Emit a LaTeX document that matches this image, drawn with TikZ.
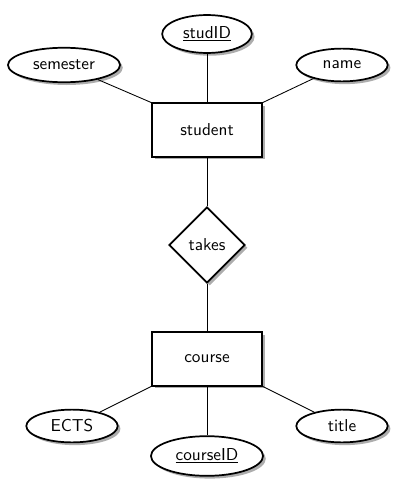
\documentclass[tikz,border=0pt]{standalone}
\usepackage{tikz}
\usetikzlibrary{shadows, shapes.geometric, positioning}
\tikzset{
    er shadow/.style = {drop shadow={shadow xshift=1.6pt, shadow yshift=-1.6pt, fill=black!40, opacity=.8}},
    entity/.style = {draw, line width=1pt, fill=white, er shadow, rectangle, minimum width=64pt, minimum height=31pt, font=\sffamily},
    relation/.style = {draw, line width=1pt, fill=white, er shadow, diamond, aspect=1, inner sep=0pt, minimum size=44pt, font=\sffamily},
    attr/.style = {draw, line width=1pt, fill=white, er shadow, ellipse, inner sep=0pt, minimum width=53pt, minimum height=19pt, font=\sffamily},
}
\tikzset{
    er edge/.style = {draw, line width=0.5pt, -},
}
\begin{document}
\begin{tikzpicture}[x=0.58pt, y=-0.58pt]
                \useasboundingbox (0, 0) rectangle (402, 490);
                \node[entity] (student) at (207, 130) {student};
                \node[attr, minimum width=52pt, minimum height=22pt] (studID) at (207, 34) {\underline{studID}};
                \node[attr, minimum width=65pt, minimum height=20pt] (semester) at (64, 65) {semester};
                \node[attr] (name) at (342, 65) {name};
                \node[relation] (takes) at (207, 245) {takes};
                \node[entity] (course) at (207, 359) {course};
                \node[attr] (ects) at (72, 426) {ECTS};
                \node[attr, minimum width=65pt, minimum height=23pt] (courseID) at (207, 456) {\underline{courseID}};
                \node[attr] (title) at (342, 426) {title};

                \draw[er edge] (semester) -- (student.north west);
                \draw[er edge] (studID) -- (student);
                \draw[er edge] (name) -- (student.north east);
                \draw[er edge] (student) -- (takes) -- (course);
                \draw[er edge] (course.south west) -- (ects);
                \draw[er edge] (course) -- (courseID);
                \draw[er edge] (course.south east) -- (title);
            \end{tikzpicture}
\end{document}
